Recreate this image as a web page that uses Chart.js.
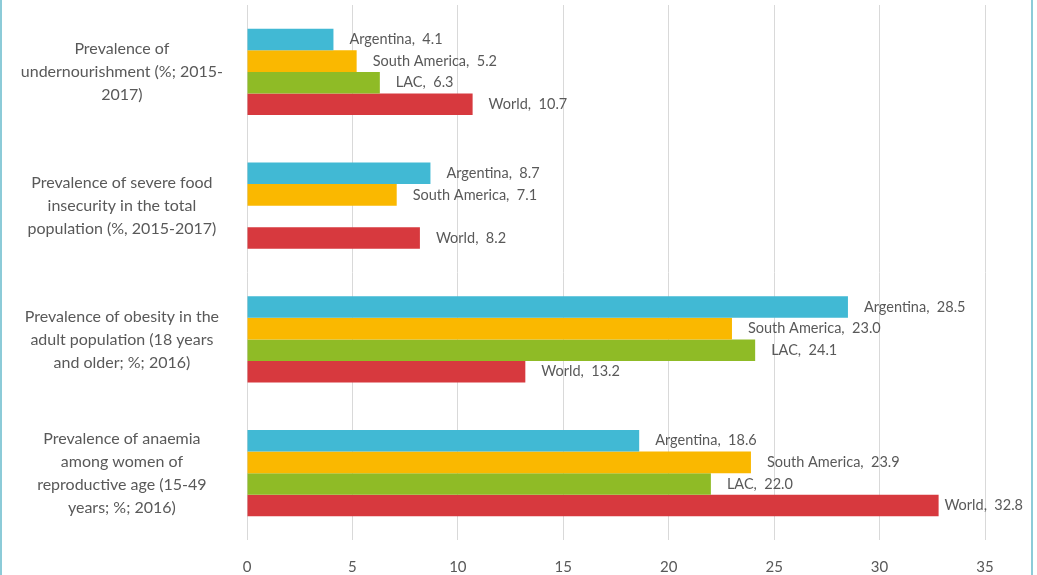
<!DOCTYPE html>
<html>
<head>
<meta charset="utf-8">
<script src="https://cdn.jsdelivr.net/npm/chart.js@4/dist/chart.umd.min.js"></script>
<style>
  html, body { margin: 0; padding: 0; background: #fff; }
  #wrap { position: relative; width: 1037px; height: 575px; }
  #wrap::before, #wrap::after {
    content: ''; position: absolute; top: 0; bottom: 0; width: 2px; background: #8ccbd8;
  }
  #wrap::before { left: 0; }
  #wrap::after { left: 1031px; }
</style>
</head>
<body>
<div id="wrap"><canvas id="foodChart" width="1037" height="575"></canvas></div>
<script>
const indicators = [
    ['Prevalence of', 'undernourishment (%; 2015-', '2017)'],
    ['Prevalence of severe food', 'insecurity in the total', 'population (%, 2015-2017)'],
    ['Prevalence of obesity in the', 'adult population (18 years', 'and older; %; 2016)'],
    ['Prevalence of anaemia', 'among women of', 'reproductive age (15-49', 'years; %; 2016)'],
];
const regions = ['Argentina', 'South America', 'LAC', 'World'];
const argentina = [4.1, 8.7, 28.5, 18.6];
const southAmerica = [5.2, 7.1, 23.0, 23.9];
const lac = [6.3, null, 24.1, 22.0];
const world = [10.7, 8.2, 13.2, 32.8];
const xTicks = [0, 5, 10, 15, 20, 25, 30, 35];

const colors = ['#41b9d4', '#fab800', '#8fbb26', '#d7393e'];
const textColor = '#595959';

// "Region, value" written just past the end of every bar,
// pulled back to the left when it would run off the right edge
const barLabels = {
    id: 'barLabels',
    afterDatasetsDraw(chart) {
        const ctx = chart.ctx;
        const maxRight = chart.width - 14;
        ctx.save();
        ctx.font = '14.5px Lato, "Open Sans", sans-serif';
        ctx.fillStyle = textColor;
        ctx.textAlign = 'left';
        ctx.textBaseline = 'middle';
        chart.data.datasets.forEach((ds, i) => {
            chart.getDatasetMeta(i).data.forEach((bar, j) => {
                const v = ds.data[j];
                if (v === null) return;
                const text = ds.label + ',  ' + v.toFixed(1);
                const w = ctx.measureText(text).width;
                const x = Math.min(bar.x + 16, maxRight - w);
                ctx.fillText(text, x, bar.y);
            });
        });
        ctx.restore();
    }
};

new Chart(document.getElementById('foodChart'), {
    type: 'bar',
    plugins: [barLabels],
    data: {
        labels: indicators,
        datasets: [
            { label: regions[0], data: argentina, backgroundColor: colors[0] },
            { label: regions[1], data: southAmerica, backgroundColor: colors[1] },
            { label: regions[2], data: lac, backgroundColor: colors[2] },
            { label: regions[3], data: world, backgroundColor: colors[3] },
        ]
    },
    options: {
        indexAxis: 'y',
        responsive: false,
        animation: false,
        layout: { padding: { top: 5, right: 52, bottom: 0, left: 0 } },
        datasets: {
            bar: { categoryPercentage: 0.645, barPercentage: 1.0 }
        },
        plugins: {
            legend: { display: false },
            tooltip: { enabled: false }
        },
        scales: {
            x: {
                min: 0,
                max: 35,
                afterBuildTicks: scale => {
                    scale.ticks = xTicks.map(v => ({ value: v }));
                },
                grid: { color: '#d9d9d9', drawTicks: false },
                border: { display: false },
                ticks: {
                    color: textColor,
                    padding: 18,
                    font: { family: 'Lato, "Open Sans", sans-serif', size: 15 }
                },
                afterFit: scale => {
                    scale.height = 35;
                    scale.paddingLeft = 0;
                    scale.paddingRight = 0;
                }
            },
            y: {
                grid: { display: false },
                border: { display: false },
                ticks: {
                    color: textColor,
                    crossAlign: 'center',
                    padding: 16,
                    font: { family: 'Lato, "Open Sans", sans-serif', size: 16, lineHeight: '23px' }
                },
                afterFit: scale => {
                    scale.width = 247;
                    scale.paddingTop = 0;
                    scale.paddingBottom = 0;
                }
            }
        }
    }
});
</script>
</body>
</html>
